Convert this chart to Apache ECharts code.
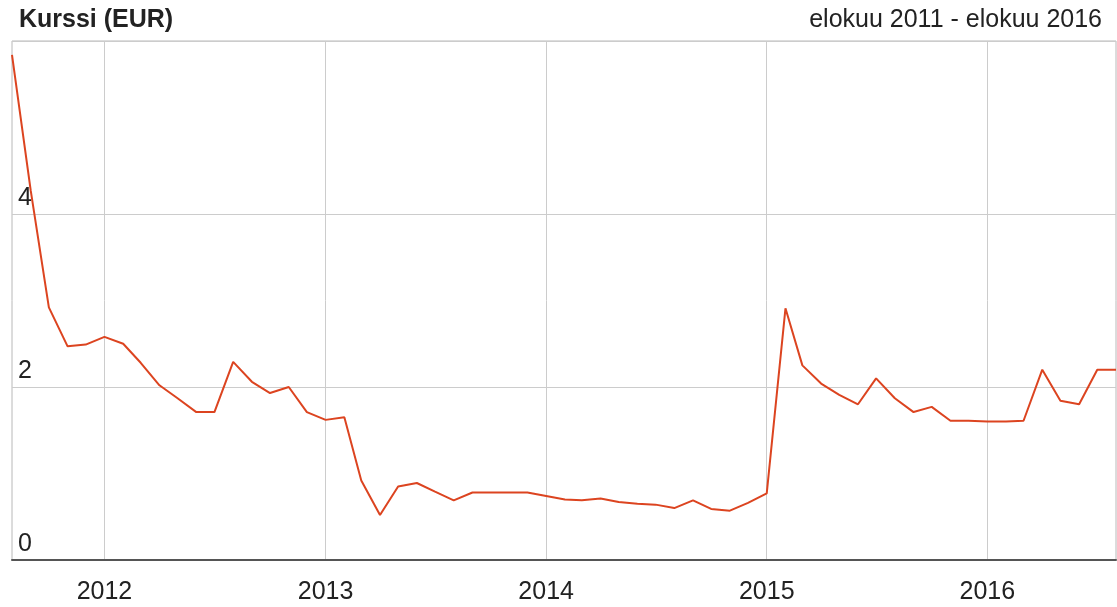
<!DOCTYPE html>
<html>
<head>
<meta charset="utf-8">
<script src="https://cdn.jsdelivr.net/npm/echarts@6/dist/echarts.min.js"></script>
<style>
html,body{margin:0;padding:0;background:#fff;}
#chart{width:1117px;height:607px;}
</style>
</head>
<body>
<div id="chart"></div>
<script>
// Months (first of month), Aug 2011 .. Aug 2016
const months = [
 '2011-08-01','2011-09-01','2011-10-01','2011-11-01','2011-12-01',
 '2012-01-01','2012-02-01','2012-03-01','2012-04-01','2012-05-01','2012-06-01',
 '2012-07-01','2012-08-01','2012-09-01','2012-10-01','2012-11-01','2012-12-01',
 '2013-01-01','2013-02-01','2013-03-01','2013-04-01','2013-05-01','2013-06-01',
 '2013-07-01','2013-08-01','2013-09-01','2013-10-01','2013-11-01','2013-12-01',
 '2014-01-01','2014-02-01','2014-03-01','2014-04-01','2014-05-01','2014-06-01',
 '2014-07-01','2014-08-01','2014-09-01','2014-10-01','2014-11-01','2014-12-01',
 '2015-01-01','2015-02-01','2015-03-01','2015-04-01','2015-05-01','2015-06-01',
 '2015-07-01','2015-08-01','2015-09-01','2015-10-01','2015-11-01','2015-12-01',
 '2016-01-01','2016-02-01','2016-03-01','2016-04-01','2016-05-01','2016-06-01',
 '2016-07-01','2016-08-01'
];
// Share price (EUR)
const prices = [
 5.84, 4.27, 2.92, 2.47, 2.49,
 2.58, 2.50, 2.28, 2.02, 1.87, 1.71,
 1.71, 2.29, 2.06, 1.93, 2.00, 1.71,
 1.62, 1.65, 0.92, 0.52, 0.85, 0.89,
 0.79, 0.69, 0.78, 0.78, 0.78, 0.78,
 0.74, 0.70, 0.69, 0.71, 0.67, 0.65,
 0.64, 0.60, 0.69, 0.59, 0.57, 0.66,
 0.77, 2.91, 2.25, 2.04, 1.91, 1.80,
 2.10, 1.87, 1.71, 1.77, 1.61, 1.61,
 1.60, 1.60, 1.61, 2.20, 1.84, 1.80,
 2.20, 2.20
];
// Year tick positions on the x axis
const yearTicks = ['2012-01-01','2013-01-01','2014-01-01','2015-01-01','2016-01-01'];
const titleLeft = 'Kurssi (EUR)';
const titleRight = 'elokuu 2011 - elokuu 2016';

const ts = d => new Date(d + 'T00:00:00Z').getTime();
const chart = echarts.init(document.getElementById('chart'));
const font = 'Liberation Sans, Arial, sans-serif';
const tickTs = yearTicks.map(ts);

chart.setOption({
  animation: false,
  backgroundColor: '#fff',
  title: [
    { text: titleLeft, left: 14, top: 3,
      textStyle: { fontFamily: font, fontSize: 25, fontWeight: 'bold', color: '#222' } },
    { text: titleRight, right: 10, top: 3,
      textStyle: { fontFamily: font, fontSize: 25, fontWeight: 'normal', color: '#222' } }
  ],
  grid: { left: 12, right: 1, top: 41, bottom: 47, show: true, borderColor: '#b8b8b8', borderWidth: 1 },
  xAxis: {
    type: 'value',
    min: ts(months[0]),
    max: ts(months[months.length - 1]),
    axisLine: { show: true, lineStyle: { color: '#555', width: 2 } },
    axisTick: { show: false, customValues: tickTs },
    axisLabel: {
      customValues: tickTs,
      formatter: v => String(new Date(v).getUTCFullYear()),
      fontFamily: font, fontSize: 25, color: '#222', margin: 20
    },
    splitLine: { show: true, lineStyle: { color: '#cccccc', width: 1 } }
  },
  yAxis: {
    type: 'value', min: 0, max: 6, interval: 2,
    axisLine: { show: false },
    axisTick: { show: false },
    axisLabel: {
      inside: true, margin: 6, showMaxLabel: false,
      verticalAlign: 'bottom', padding: [0, 0, 3, 0],
      fontFamily: font, fontSize: 25, color: '#222'
    },
    splitLine: { show: true, lineStyle: { color: '#cccccc', width: 1 } }
  },
  series: [{
    type: 'line',
    data: months.map((m, i) => [ts(m), prices[i]]),
    showSymbol: false,
    lineStyle: { color: '#dc4420', width: 2 },
    z: 5
  }]
});
</script>
</body>
</html>
